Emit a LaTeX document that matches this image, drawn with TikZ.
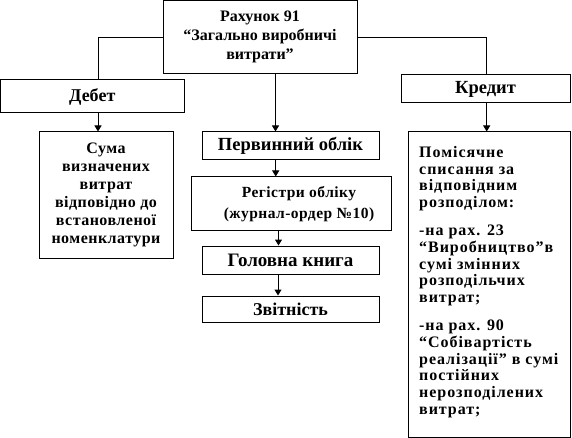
\documentclass[tikz,border=0pt]{standalone}
\usepackage{fontspec}
\setmainfont{Liberation Serif}
\usetikzlibrary{arrows.meta}
\begin{document}
\begin{tikzpicture}[x=1pt,y=-1pt,
  box/.style={draw,line width=1pt,inner sep=0pt,align=center},
  conn/.style={line width=1pt},
  arr/.style={line width=1pt,-{Triangle[width=7pt,length=6pt]}},
  txt/.style={inner sep=0pt}]
\path[fill=white,use as bounding box] (0,0) rectangle (572,438);
% boxes
\node[box,minimum width=194pt,minimum height=73.5pt,font=\bfseries\fontsize{16}{19}\selectfont] (top) at (260,37.25) {Рахунок 91\\“Загально виробничі\\витрати”};
\node[box,minimum width=183.5pt,minimum height=33pt,font=\bfseries\fontsize{18}{21}\selectfont] (debet) at (92.25,96.5) {Дебет};
\node[box,minimum width=169pt,minimum height=28pt,font=\bfseries\fontsize{18.5}{21}\selectfont] (kredit) at (485.5,89) {Кредит};
\node[box,minimum width=134pt,minimum height=126pt,font=\bfseries\fontsize{16}{18}\selectfont\addfontfeatures{LetterSpace=3}] (suma) at (106,195) {Сума\\визначених\\витрат\\відповідно до\\встановленої\\номенклатури};
\node[box,minimum width=177pt,minimum height=28pt,font=\bfseries\fontsize{18.5}{21}\selectfont] (perv) at (290.5,146) {Первинний облік};
\node[box,minimum width=200pt,minimum height=53pt] (reg) at (291,203.5) {};
\node[txt,align=center,font=\bfseries\fontsize{15.5}{21}\selectfont\addfontfeatures{LetterSpace=3}] (regtext) at (299,204) {Регістри обліку\\(журнал-ордер №10)};
\node[box,minimum width=177pt,minimum height=28pt,font=\bfseries\fontsize{19}{21}\selectfont] (hol) at (290.5,260) {Головна книга};
\node[box,minimum width=177pt,minimum height=26pt,font=\bfseries\fontsize{18}{21}\selectfont] (zvit) at (290.5,309) {Звітність};
\node[box,minimum width=162pt,minimum height=305pt] (right) at (489,284.5) {};
\node[txt,anchor=north west,align=left,font=\bfseries\fontsize{16}{16.7}\selectfont\addfontfeatures{LetterSpace=6}] (rtext) at (419,146) {Помісячне\\списання за\\відповідним\\розподілом:\\[11.6pt]-на рах. 23\\“Виробництво”в\\сумі змінних\\розподільчих\\витрат;\\[11.6pt]-на рах. 90\\“Собівартість\\реалізації” в сумі\\постійних\\нерозподілених\\витрат;};
% connectors
\draw[conn] (top.west) -| ([xshift=5.75pt]debet.north);
\draw[conn] (top.east) -| ([xshift=1.2pt]kredit.north);
\draw[arr] ([xshift=5.75pt]debet.south) -- ([xshift=5.75pt]debet.south |- suma.north);
\draw[arr] ([xshift=15.5pt]top.south) -- ([xshift=15.5pt]top.south |- perv.north);
\draw[arr] ([xshift=1.2pt]kredit.south) -- ([xshift=1.2pt]kredit.south |- right.north);
\draw[arr] ([xshift=-14.8pt]perv.south) -- ([xshift=-14.8pt]perv.south |- reg.north);
\draw[arr] ([xshift=-12.5pt]reg.south) -- ([xshift=-12.5pt]reg.south |- hol.north);
\draw[arr] ([xshift=-12.5pt]hol.south) -- ([xshift=-12.5pt]hol.south |- zvit.north);
\end{tikzpicture}
\end{document}
